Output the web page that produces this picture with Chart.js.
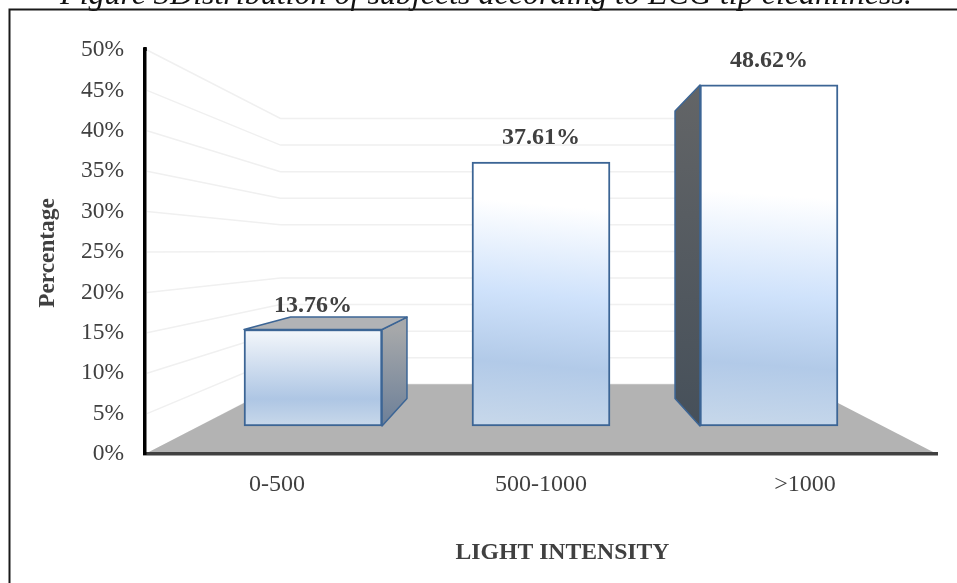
<!DOCTYPE html>
<html><head><meta charset="utf-8">
<style>html,body{margin:0;padding:0;background:#fff}#wrap{width:957px;height:583px;overflow:hidden}</style>
<script src="https://cdn.jsdelivr.net/npm/chart.js@4"></script>
</head><body><div id="wrap"><canvas id="c" width="957" height="583"></canvas></div>
<script>
const categories = ['0-500', '500-1000', '>1000'];
const values = [13.76, 37.61, 48.62];
const valueLabels = ['13.76%', '37.61%', '48.62%'];
const titleText = 'Figure 3Distribution of subjects according to ECG tip cleanliness.';
const yAxisTitle = 'Percentage';
const xAxisTitle = 'LIGHT INTENSITY';

const SERIF = '"Liberation Serif","Times New Roman",serif';
const INK = '#404040', EDGE = '#3c6595';
const BAR_T = 0.157, WALL_T = 0.342;

function vp(chart){ return {x: chart.scales.xb.getPixelForValue(1), y: chart.scales.y.getPixelForValue(25.2)}; }
function proj(p, v, t){ return {x: p.x + (v.x - p.x) * t, y: p.y + (v.y - p.y) * t}; }
function poly(ctx, pts){ ctx.beginPath(); pts.forEach((p,i)=> i?ctx.lineTo(p.x,p.y):ctx.moveTo(p.x,p.y)); ctx.closePath(); }

const scene = {
  id: 'scene',
  beforeDatasetsDraw(chart){
    const {ctx, chartArea:a, scales:{y}} = chart, v = vp(chart);
    ctx.save();
    // page title, cut by the top edge of the picture
    ctx.font = 'italic 32px '+SERIF; ctx.fillStyle = '#111';
    ctx.textAlign = 'center'; ctx.textBaseline = 'alphabetic';
    ctx.fillText(titleText, 486, 4);
    // frame
    ctx.strokeStyle = '#1a1a1a'; ctx.lineWidth = 2;
    ctx.beginPath(); ctx.moveTo(9.5,583); ctx.lineTo(9.5,9.5); ctx.lineTo(957,9.5); ctx.stroke();
    // axis titles
    ctx.fillStyle = INK; ctx.textBaseline = 'middle';
    ctx.font = 'bold 23.7px '+SERIF;
    ctx.fillText(xAxisTitle, a.left + (a.right-a.left)/2 + 21.5, 553);
    ctx.font = 'bold 23.3px '+SERIF;
    ctx.save(); ctx.translate(48, 253); ctx.rotate(-Math.PI/2); ctx.fillText(yAxisTitle, 0, 0); ctx.restore();
    // wall grid
    ctx.strokeStyle = '#f0f0f0'; ctx.lineWidth = 1.5;
    y.ticks.forEach(t => {
      const py = y.getPixelForValue(t.value);
      const l = proj({x:a.left,y:py}, v, WALL_T), r = proj({x:a.right,y:py}, v, WALL_T);
      ctx.beginPath(); ctx.moveTo(a.left+2,py); ctx.lineTo(l.x,l.y); ctx.lineTo(r.x,r.y); ctx.stroke();
    });
    // floor
    const fl = {x:a.left,y:a.bottom}, fr = {x:a.right,y:a.bottom};
    ctx.fillStyle = '#b3b3b3';
    poly(ctx,[fl, proj(fl,v,WALL_T), proj(fr,v,WALL_T), fr]); ctx.fill();
    // axis line rises slightly above the 50% tick
    ctx.strokeStyle = '#000'; ctx.lineWidth = 3.5;
    ctx.beginPath(); ctx.moveTo(a.left,a.top+1); ctx.lineTo(a.left,a.top-3); ctx.stroke();
    // bar side and top faces
    chart.getDatasetMeta(0).data.forEach(b => {
      const w = b.width/2, top = b.y, bot = b.base, L = b.x-w, R = b.x+w;
      ctx.strokeStyle = EDGE; ctx.lineWidth = 1.5; ctx.lineJoin = 'round';
      const face = (p, fill) => { poly(ctx,p); ctx.fillStyle = fill; ctx.fill(); ctx.stroke(); };
      const TL={x:L,y:top},TR={x:R,y:top},BL={x:L,y:bot},BR={x:R,y:bot};
      if (R < v.x) {
        const g = ctx.createLinearGradient(0,top,0,bot);
        g.addColorStop(0,'#a6a8aa'); g.addColorStop(1,'#6c7f98');
        face([TR,proj(TR,v,BAR_T),proj(BR,v,BAR_T),BR], g);
      }
      if (L > v.x) {
        const g = ctx.createLinearGradient(0,top,0,bot);
        g.addColorStop(0,'#636567'); g.addColorStop(1,'#46505a');
        face([TL,proj(TL,v,BAR_T),proj(BL,v,BAR_T),BL], g);
      }
      if (top > v.y) face([TL,proj(TL,v,BAR_T),proj(TR,v,BAR_T),TR], '#b1b3b6');
    });
    ctx.restore();
  },
  afterDatasetsDraw(chart){
    const {ctx} = chart;
    ctx.save();
    ctx.font = 'bold 24px '+SERIF; ctx.fillStyle = INK;
    ctx.textAlign = 'center'; ctx.textBaseline = 'middle';
    chart.getDatasetMeta(0).data.forEach((b,i)=> ctx.fillText(valueLabels[i], b.x, b.y-24));
    ctx.restore();
  }
};

function barFill(c){
  const chart = c.chart;
  if (!chart.chartArea || c.dataIndex === undefined) return '#c8d9ec';
  const s = chart.scales.yb, top = s.getPixelForValue(values[c.dataIndex]), bot = s.getPixelForValue(0);
  const cx = chart.scales.xb.getPixelForValue(c.dataIndex);
  if (c.dataIndex === 0) {
    const g = chart.ctx.createLinearGradient(cx,top,cx,bot);
    g.addColorStop(0,'#f4f7fb'); g.addColorStop(0.72,'#aec6e4'); g.addColorStop(1,'#c8d8ea');
    return g;
  }
  const g = chart.ctx.createLinearGradient(cx+12,top,cx-12,bot);
  const h = bot-top, at = px => Math.min(1,Math.max(0,(px-top)/h));
  const white = c.dataIndex === 1 ? 205 : 195;
  g.addColorStop(0,'#ffffff'); g.addColorStop(at(white),'#ffffff');
  g.addColorStop(at(295),'#cfe2fb'); g.addColorStop(at(365),'#b2cae8'); g.addColorStop(1,'#c6d7ea');
  return g;
}

new Chart(document.getElementById('c'), {
  type: 'bar',
  data: {
    labels: categories,
    datasets: [{
      data: values.map((v,i)=>({x:i,y:v})),
      xAxisID: 'xb', yAxisID: 'yb',
      backgroundColor: barFill, borderColor: EDGE, borderWidth: 2, borderSkipped: false,
      barThickness: 138
    }]
  },
  plugins: [scene],
  options: {
    responsive: false, animation: false,
    layout: {padding: {top: 50, right: 20, left: 0, bottom: 0}},
    plugins: { legend: {display:false}, tooltip: {enabled:false}, title: {display:false} },
    scales: {
      x: {type:'category', position:'bottom', labels:categories, offset:true,
        afterFit(s){ s.height = 129; },
        grid:{drawOnChartArea:false, drawTicks:false, offset:true},
        border:{color:INK, width:3.5, z:1},
        ticks:{color:INK, padding:16, maxRotation:0, font:{family:SERIF,size:24}}
      },
      xb: {type:'linear', display:false, position:'bottom', offset:false, min:-0.737, max:2.737},
      y: {type:'linear', position:'left', min:0, max:50,
        afterFit(s){ s.width = 145; },
        grid:{drawOnChartArea:false, drawTicks:false},
        border:{color:'#000', width:3.5, z:1},
        ticks:{color:INK, padding:21, stepSize:5, callback:v=>v+'%', font:{family:SERIF,size:23.5}}
      },
      yb: {type:'linear', display:false, position:'left', min:-3.99, max:53.6}
    }
  }
});
</script></body></html>
